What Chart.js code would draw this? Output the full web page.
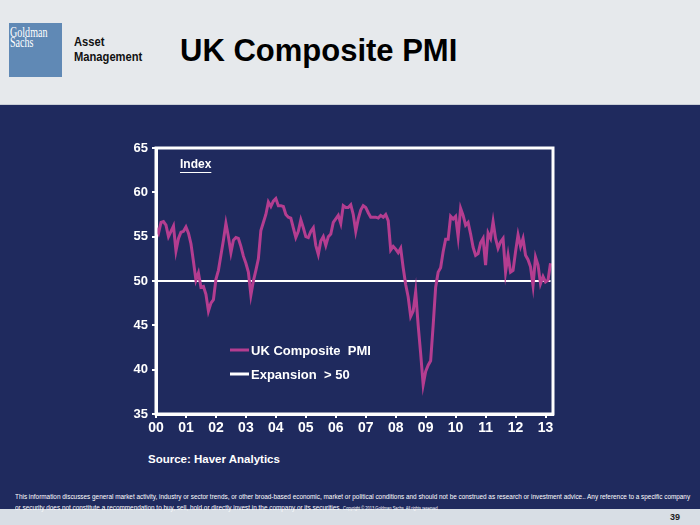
<!DOCTYPE html>
<html>
<head>
<meta charset="utf-8">
<script src="https://cdn.jsdelivr.net/npm/chart.js@4.4.1/dist/chart.umd.min.js"></script>
<style>
  html, body { margin: 0; padding: 0; }
  body { width: 700px; height: 525px; position: relative; overflow: hidden; background: #1f2a5e; font-family: "Liberation Sans", Arial, sans-serif; }
  #header { position: absolute; left: 0; top: 0; width: 700px; height: 104px; background: #e6e9ec; border-bottom: 1px solid #c9ced6; }
  #logo { position: absolute; left: 9px; top: 23px; width: 53px; height: 54px; background: #6089b5; }
  #logo span { position: absolute; left: 1px; color: #fff; font-family: "Liberation Serif", serif; font-size: 14px; line-height: 11px; transform: scaleX(0.72); transform-origin: left top; }
  #asset { position: absolute; left: 74px; top: 34px; font-weight: bold; font-size: 13px; line-height: 15px; color: #111; transform: scaleX(0.86); transform-origin: left top; }
  #title { position: absolute; left: 180px; top: 33px; font-weight: bold; font-size: 31px; color: #000; }
  #chartBox { position: absolute; left: 110px; top: 135px; width: 460px; height: 310px; }
  #source { position: absolute; left: 148px; top: 453px; color: #fff; font-weight: bold; font-size: 11.5px; }
  .disc { position: absolute; left: 15px; color: #fff; font-size: 8px; white-space: nowrap; transform-origin: left top; }
  .disc small { font-size: 5px; }
  #footer { position: absolute; left: 0; top: 509px; width: 700px; height: 16px; background: #d8dee5; }
  #page { position: absolute; left: 670px; top: 512px; font-size: 9px; font-weight: bold; color: #222; }
</style>
</head>
<body>
<div id="header">
  <div id="logo"><span style="top:4px">Goldman</span><span style="top:14px">Sachs</span></div>
  <div id="asset">Asset<br>Management</div>
  <div id="title">UK Composite PMI</div>
</div>
<div id="chartBox"><canvas id="chart"></canvas></div>
<div id="source">Source: Haver Analytics</div>
<div id="footer"></div>
<div class="disc" id="disc1" style="top:492px">This information discusses general market activity, industry or sector trends, or other broad-based economic, market or political conditions and should not be construed as research or investment advice.. Any reference to a specific company</div>
<div class="disc" id="disc2" style="top:503px">or security does not constitute a recommendation to buy, sell, hold or directly invest in the company or its securities. <small>Copyright © 2013 Goldman Sachs. All rights reserved</small></div>
<div id="page">39</div>
<script>
// monthly UK composite PMI, Jan 2000 .. Mar 2013
const pmi = [
  56.0, 55.4, 56.6, 56.7, 56.3, 55.0, 55.6, 56.2, 53.4, 54.8, 55.5, 55.6,
  56.1, 55.4, 54.2, 52.2, 50.1, 50.9, 49.3, 49.4, 48.5, 46.6, 47.5, 47.9,
  50.2, 51.2, 52.9, 54.6, 56.5, 55.0, 53.2, 54.6, 54.9, 54.8, 53.9, 52.8,
  52.0, 51.0, 48.4, 50.0, 51.2, 52.5, 55.7, 56.6, 57.5, 58.9, 58.4, 59.0,
  59.3, 58.5, 58.5, 58.4, 57.5, 57.2, 57.1, 56.0, 54.9, 55.6, 56.9, 56.0,
  55.0, 54.9, 55.6, 56.0, 54.0, 53.0, 54.5, 55.0, 54.0, 55.0, 55.3, 56.6,
  57.0, 57.4, 56.5, 58.5, 58.3, 58.3, 58.6, 57.5, 55.6, 57.0, 58.0, 58.5,
  58.3, 57.7, 57.2, 57.2, 57.2, 57.1, 57.4, 57.2, 57.5, 56.8, 53.5, 53.9,
  53.6, 53.2, 53.7, 51.5, 49.6, 48.2, 46.0, 46.6, 48.8, 45.0, 41.8, 38.3,
  39.8, 40.5, 41.0, 45.0, 49.3, 51.0, 51.5, 53.3, 54.7, 54.7, 57.3, 57.0,
  57.3, 55.0, 58.2, 57.4, 56.3, 56.6, 55.3, 53.8, 52.9, 53.1, 54.3, 54.8,
  51.8, 55.4, 54.8, 56.7, 54.8, 53.7, 54.4, 54.8, 51.0, 52.9, 51.0, 51.2,
  53.3, 55.2, 53.9, 54.8, 52.9, 52.4, 51.6, 49.5, 52.7, 51.8, 49.7, 50.5,
  49.9, 50.1, 52.0
];
const yearLabels = ['00','01','02','03','04','05','06','07','08','09','10','11','12','13'];
const yTicks = [35, 40, 45, 50, 55, 60, 65];
const expansionLevel = 50;

const pmiPoints = pmi.map((v, i) => ({ x: i, y: v }));
const expansionPoints = [{ x: 0, y: expansionLevel }, { x: pmi.length - 1, y: expansionLevel }];

const frameAndText = {
  id: 'frameAndText',
  afterDatasetsDraw(chart) {
    const { ctx, chartArea: a } = chart;
    ctx.save();
    ctx.strokeStyle = '#ffffff';
    ctx.lineWidth = 3;
    ctx.strokeRect(a.left, a.top, a.right - a.left, a.bottom - a.top);

    ctx.fillStyle = '#ffffff';
    ctx.font = 'bold 12px "Liberation Sans", Arial';
    ctx.textBaseline = 'middle';
    ctx.fillText('Index', a.left + 24, a.top + 17);
    const w = ctx.measureText('Index').width;
    ctx.lineWidth = 1;
    ctx.beginPath();
    ctx.moveTo(a.left + 24, a.top + 24.5);
    ctx.lineTo(a.left + 24 + w, a.top + 24.5);
    ctx.stroke();

    // legend inside the plot
    ctx.font = 'bold 13px "Liberation Sans", Arial';
    chart.data.datasets.forEach((ds, k) => {
      const y = a.top + 202 + k * 24;
      ctx.strokeStyle = ds.borderColor;
      ctx.lineWidth = 3;
      ctx.beginPath();
      ctx.moveTo(a.left + 74, y);
      ctx.lineTo(a.left + 93, y);
      ctx.stroke();
      ctx.fillText(ds.label, a.left + 95, y + 1);
    });
    ctx.restore();
  }
};

new Chart(document.getElementById('chart'), {
  type: 'line',
  data: {
    datasets: [
      { label: 'UK Composite  PMI', data: pmiPoints, borderColor: '#b43d90', borderWidth: 3, pointRadius: 0, tension: 0 },
      { label: 'Expansion  > 50', data: expansionPoints, borderColor: '#ffffff', borderWidth: 2, pointRadius: 0 }
    ]
  },
  options: {
    responsive: true,
    maintainAspectRatio: false,
    animation: false,
    layout: { padding: { top: 13, right: 17, left: 0, bottom: 0 } },
    plugins: { legend: { display: false }, tooltip: { enabled: false } },
    scales: {
      x: {
        type: 'linear',
        min: 0,
        max: 159,
        afterBuildTicks: (scale) => { scale.ticks = yearLabels.map((_, k) => ({ value: k * 12 })); },
        afterFit: (scale) => { scale.height = 31; },
        grid: { drawOnChartArea: false, drawTicks: true, tickLength: 4, color: '#ffffff', lineWidth: 2 },
        border: { display: true, color: '#ffffff', width: 3 },
        ticks: {
          color: '#ffffff',
          font: { family: '"Liberation Sans", Arial', size: 14, weight: 'bold' },
          padding: 2,
          maxRotation: 0,
          autoSkip: false,
          callback: (v) => yearLabels[v / 12]
        }
      },
      y: {
        min: 35,
        max: 65,
        afterBuildTicks: (scale) => { scale.ticks = yTicks.map(v => ({ value: v })); },
        afterFit: (scale) => { scale.width = 46; },
        grid: { drawOnChartArea: false, drawTicks: true, tickLength: 4, color: '#ffffff', lineWidth: 2 },
        border: { display: true, color: '#ffffff', width: 3 },
        ticks: {
          color: '#ffffff',
          font: { family: '"Liberation Sans", Arial', size: 13, weight: 'bold' },
          padding: 4
        }
      }
    }
  },
  plugins: [frameAndText]
});

// squeeze the disclaimer to the slide width
const d1 = document.getElementById('disc1');
const sx = 675 / d1.scrollWidth;
d1.style.transform = 'scaleX(' + sx + ')';
document.getElementById('disc2').style.transform = 'scaleX(' + sx + ')';
</script>
</body>
</html>
